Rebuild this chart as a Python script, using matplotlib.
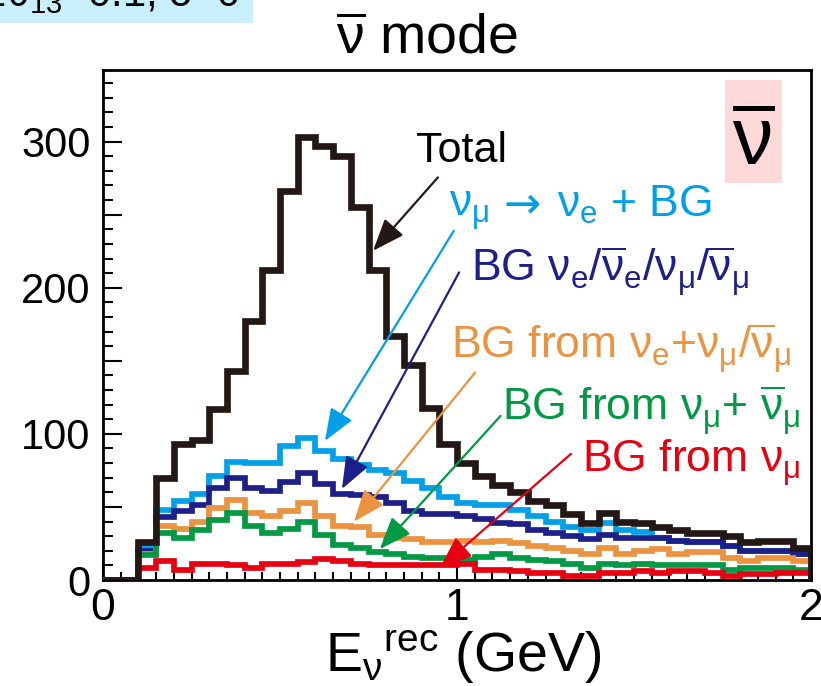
import matplotlib
matplotlib.use('Agg')
import matplotlib.pyplot as plt
import numpy as np
from matplotlib.patches import Rectangle
from matplotlib.ticker import MultipleLocator, FuncFormatter

plt.rcParams['font.family'] = ['Liberation Sans', 'DejaVu Sans']
plt.rcParams['mathtext.fontset'] = 'custom'
plt.rcParams['mathtext.rm'] = 'Liberation Sans'
plt.rcParams['mathtext.it'] = 'Liberation Sans:italic'
plt.rcParams['mathtext.default'] = 'regular'

# 40 bins of 0.05 GeV, 0 - 2 GeV
bin_width = 0.05
edges = np.arange(41) * bin_width

total = [0, 0, 26, 70, 93, 96, 117, 143, 177, 212, 266, 303, 297, 290, 255, 212, 167, 147, 118, 93,
         80, 71, 65, 60, 54, 51, 45, 39, 46, 40, 39, 36, 34, 32, 32, 30, 26, 27, 27, 22]
sig_bg = [0, 0, 22, 48, 54, 59, 71, 81, 80, 80, 92, 97, 88, 83, 79, 75, 73, 68, 63, 57,
          53, 51, 51, 48, 44, 40, 36, 34, 39, 34, 33, 29, 27, 26, 26, 23, 20, 20, 20, 18]
bg_all = [0, 0, 20, 43, 47, 51, 63, 70, 63, 61, 67, 73, 66, 59, 58, 57, 53, 47, 45, 45,
          44, 42, 39, 38, 34, 32, 30, 28, 31, 29, 29, 29, 27, 26, 26, 23, 20, 20, 20, 18]
bg_nue_numu = [0, 0, 18, 37, 35, 40, 49, 55, 46, 44, 47, 53, 44, 37, 36, 31, 29, 28, 26, 26,
               27, 26, 27, 25, 23, 22, 20, 18, 22, 18, 20, 21, 18, 19, 19, 15, 13, 15, 15, 13]
bg_numu_numubar = [0, 0, 17, 32, 29, 34, 41, 46, 37, 32, 35, 40, 31, 24, 22, 19, 18, 16, 15, 15,
                   14, 16, 18, 15, 14, 13, 11, 8, 11, 10, 11, 10, 10, 10, 10, 7, 8, 8, 8, 7]
bg_numu = [0, 0, 8, 13, 7, 11, 11, 10, 8, 11, 11, 12, 14.5, 13, 11, 10, 10, 10, 10, 10,
           11, 7, 7, 6, 5, 5, 3, 3, 5, 5, 6, 5, 6, 6, 5, 3, 4, 4, 5, 5]

c_black = '#231815'
c_cyan = '#00a0e9'
c_navy = '#1d2088'
c_orange = '#eb9340'
c_green = '#009944'
c_red = '#e60012'

labels = [r'$\nu_e$ + BG',
          r'BG $\nu_e/\overline{\nu}_e/\nu_\mu/\overline{\nu}_\mu$',
          r'BG from $\nu_e$+$\nu_\mu/\overline{\nu}_\mu$',
          r'BG from $\nu_\mu$+ $\overline{\nu}_\mu$',
          r'BG from $\nu_\mu$']

W, H = 821, 686
fig = plt.figure(figsize=(W / 100, H / 100), dpi=100)
ax = fig.add_axes([103 / W, 1 - 580 / H, (811 - 103) / W, (580 - 70) / H])

series = [(sig_bg, c_cyan), (bg_all, c_navy), (bg_nue_numu, c_orange),
          (bg_numu_numubar, c_green), (bg_numu, c_red)]
for i, (vals, col) in enumerate(series):
    ax.stairs(vals, edges, color=col, lw=4.1, baseline=0, joinstyle='miter', zorder=2 + i)
ax.stairs(total, edges, color=c_black, lw=4.8, baseline=0, joinstyle='miter', zorder=8)

ax.set_xlim(0, 2)
ax.set_ylim(0, 349)

ax.yaxis.set_major_locator(MultipleLocator(50))
ax.yaxis.set_minor_locator(MultipleLocator(10))
ax.yaxis.set_major_formatter(FuncFormatter(lambda v, p: f'{int(round(v))}' if round(v) % 100 == 0 else ''))
ax.set_xticks([0, 1, 2])
ax.set_xticklabels(['0', '1', '2'])
ax.xaxis.set_minor_locator(MultipleLocator(0.05))

ax.tick_params(axis='y', which='major', direction='in', length=14, width=1.5, labelsize=30, pad=9)
ax.tick_params(axis='y', which='minor', direction='in', length=7, width=1.5)
ax.tick_params(axis='x', which='major', direction='in', length=14, width=1.5, labelsize=32, pad=6)
ax.tick_params(axis='x', which='minor', direction='in', length=6, width=1.5)
for s in ax.spines.values():
    s.set_linewidth(2)
    s.set_color('black')

# labels
fs = 32
fig.text(416 / W, 1 - 162 / H, 'Total', fontsize=31, color='black', va='baseline')
# signal label is built from pieces so the arrow can be a plain glyph
fig.text(449 / W, 1 - 217 / H, r'$\nu_\mu$', fontsize=fs, color=c_cyan, va='baseline')
fig.text(503 / W, 1 - 217 / H, '\u2192', fontsize=fs, color=c_cyan, va='baseline',
         family='DejaVu Sans')
label_pos = [(557, 217), (471, 283), (451, 360), (502, 422), (582, 473)]
for (lx, ly), lab, (_, col) in zip(label_pos, labels, series):
    fig.text(lx / W, 1 - ly / H, lab, fontsize=fs, color=col, va='baseline')

# arrows (tail -> head, data coords)
arrows = [((0.946, 275.5), (0.763, 225.3), c_black),
          ((0.991, 239.0), (0.627, 95.2), c_cyan),
          ((1.006, 210.5), (0.675, 62.3), c_navy),
          ((1.051, 141.9), (0.709, 39.9), c_orange),
          ((1.123, 112.3), (0.782, 21.2), c_green),
          ((1.322, 86.3), (0.952, 8.4), c_red)]
for tail, head, col in arrows:
    ax.annotate('', xy=head, xytext=tail, zorder=10,
                arrowprops=dict(arrowstyle='-|>,head_length=0.9,head_width=0.35',
                                mutation_scale=22, lw=1.6, color=col, shrinkA=0, shrinkB=0))

# anti-neutrino badge
fig.patches.append(Rectangle((725 / W, 1 - 183 / H), 57 / W, 103 / H, transform=fig.transFigure,
                             facecolor='#fdd9d9', edgecolor='none', zorder=1))
fig.text(753.5 / W, 1 - 165 / H, r'$\overline{\nu}$', fontsize=58, ha='center', va='baseline', zorder=3)

# title and axis label
fig.text(427 / W, 1 - 53 / H, r'$\overline{\nu}$ mode', fontsize=40, ha='center', va='baseline')
fig.text(463 / W, 1 - 672 / H, r'E$_\nu$$^{rec}$ (GeV)', fontsize=40, ha='center', va='baseline')

# clipped caption box at top left
fig.patches.append(Rectangle((0, 1 - 23 / H), 253 / W, 23 / H, transform=fig.transFigure,
                             facecolor='#c9eefc', edgecolor='none', zorder=1))
fig.text(240 / W, 1 - 7 / H, r'sin$^2$2$\theta_{13}$=0.1, $\delta$=0', fontsize=30,
         ha='right', va='baseline', zorder=3)

fig.savefig('out.png', dpi=100)
